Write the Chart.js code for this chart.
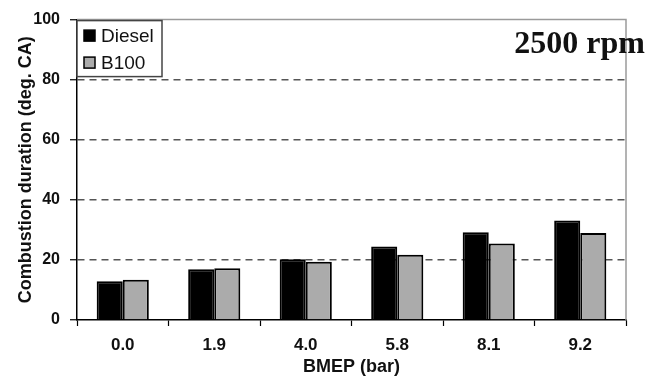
<!DOCTYPE html>
<html>
<head>
<meta charset="utf-8">
<script src="https://cdn.jsdelivr.net/npm/chart.js@4/dist/chart.umd.min.js"></script>
<style>
html,body{margin:0;padding:0;background:#fff;}
#wrap{width:646px;height:380px;}
</style>
</head>
<body>
<div id="wrap"><canvas id="c" width="646" height="380"></canvas></div>
<script>
const categories = ['0.0', '1.9', '4.0', '5.8', '8.1', '9.2'];
const dieselValues = [12.9, 16.9, 20.2, 24.5, 29.2, 33.1];
const b100Values = [13.4, 17.2, 19.4, 21.7, 25.5, 29.0];
const seriesNames = ['Diesel', 'B100'];
const yTicks = [0, 20, 40, 60, 80, 100];
const annotationText = '2500 rpm';

const overlay = {
  id: 'overlay',
  beforeDatasetsDraw(chart) {
    const {ctx, chartArea: a} = chart;
    ctx.save();
    ctx.strokeStyle = '#9a9a9a';
    ctx.lineWidth = 1.5;
    ctx.beginPath();
    ctx.moveTo(a.left, a.top);
    ctx.lineTo(a.right, a.top);
    ctx.lineTo(a.right, a.bottom);
    ctx.stroke();
    ctx.restore();
  },
  afterDraw(chart) {
    const {ctx, chartArea: a} = chart;
    ctx.save();
    const bx = a.left, by = a.top + 1, bw = 85, bh = 56;
    ctx.fillStyle = '#fff';
    ctx.fillRect(bx, by, bw, bh);
    ctx.strokeStyle = '#444';
    ctx.lineWidth = 1.5;
    ctx.strokeRect(bx, by, bw, bh);
    ctx.font = '19px "Liberation Sans", Arial, sans-serif';
    ctx.textBaseline = 'middle';
    const rows = [by + 15, by + 42];
    chart.data.datasets.forEach((ds, i) => {
      const y = rows[i];
      ctx.fillStyle = ds.backgroundColor;
      ctx.fillRect(bx + 7, y - 5.5, 11, 11);
      ctx.strokeStyle = '#000';
      ctx.lineWidth = 1.5;
      ctx.strokeRect(bx + 7, y - 5.5, 11, 11);
      ctx.fillStyle = '#111';
      ctx.fillText(ds.label, bx + 24, y + 1);
    });
    ctx.font = 'bold 32px "Liberation Serif", "Times New Roman", serif';
    ctx.fillStyle = '#111';
    ctx.textBaseline = 'alphabetic';
    ctx.textAlign = 'right';
    ctx.fillText(annotationText, 645, 53);
    ctx.restore();
  }
};

new Chart(document.getElementById('c'), {
  type: 'bar',
  data: {
    labels: categories,
    datasets: [
      {label: seriesNames[0], data: dieselValues, backgroundColor: '#000000', borderColor: '#000000', borderWidth: 2},
      {label: seriesNames[1], data: b100Values, backgroundColor: '#ababab', borderColor: '#000000', borderWidth: 2}
    ]
  },
  options: {
    responsive: false,
    animation: false,
    devicePixelRatio: 1,
    categoryPercentage: 0.57,
    barPercentage: 1.0,
    layout: {padding: {top: 19, right: 20, left: 0, bottom: 0}},
    plugins: {legend: {display: false}, tooltip: {enabled: false}},
    scales: {
      x: {
        offset: true,
        afterFit(s) { s.height = 60; },
        grid: {offset: true, drawOnChartArea: false, drawTicks: true, tickLength: 6, tickColor: '#000', tickWidth: 1.2},
        border: {display: true, color: '#000', width: 1.5},
        ticks: {color: '#111', padding: 9, font: {family: '"Liberation Sans", Arial, sans-serif', size: 17, weight: 'bold'}},
        title: {display: true, text: 'BMEP (bar)', color: '#111', padding: {top: 0, bottom: 2}, font: {family: '"Liberation Sans", Arial, sans-serif', size: 18, weight: 'bold'}}
      },
      y: {
        min: 0, max: 100,
        afterFit(s) { s.width = 77; },
        afterBuildTicks(s) { s.ticks = yTicks.map(v => ({value: v})); },
        grid: {
          color: c => (c.tick && (c.tick.value === 0 || c.tick.value === 100)) ? 'rgba(0,0,0,0)' : '#555',
          lineWidth: 1.5,
          tickBorderDash: [],
          tickColor: '#000',
          tickLength: 7,
          tickWidth: 1.2
        },
        border: {display: true, color: '#000', width: 1.5, dash: [7, 5]},
        ticks: {color: '#111', padding: 10, font: {family: '"Liberation Sans", Arial, sans-serif', size: 16, weight: 'bold'}},
        title: {display: true, text: 'Combustion duration (deg. CA)', color: '#111', padding: {top: 15, bottom: 0}, font: {family: '"Liberation Sans", Arial, sans-serif', size: 18, weight: 'bold'}}
      }
    }
  },
  plugins: [overlay]
});
</script>
</body>
</html>
